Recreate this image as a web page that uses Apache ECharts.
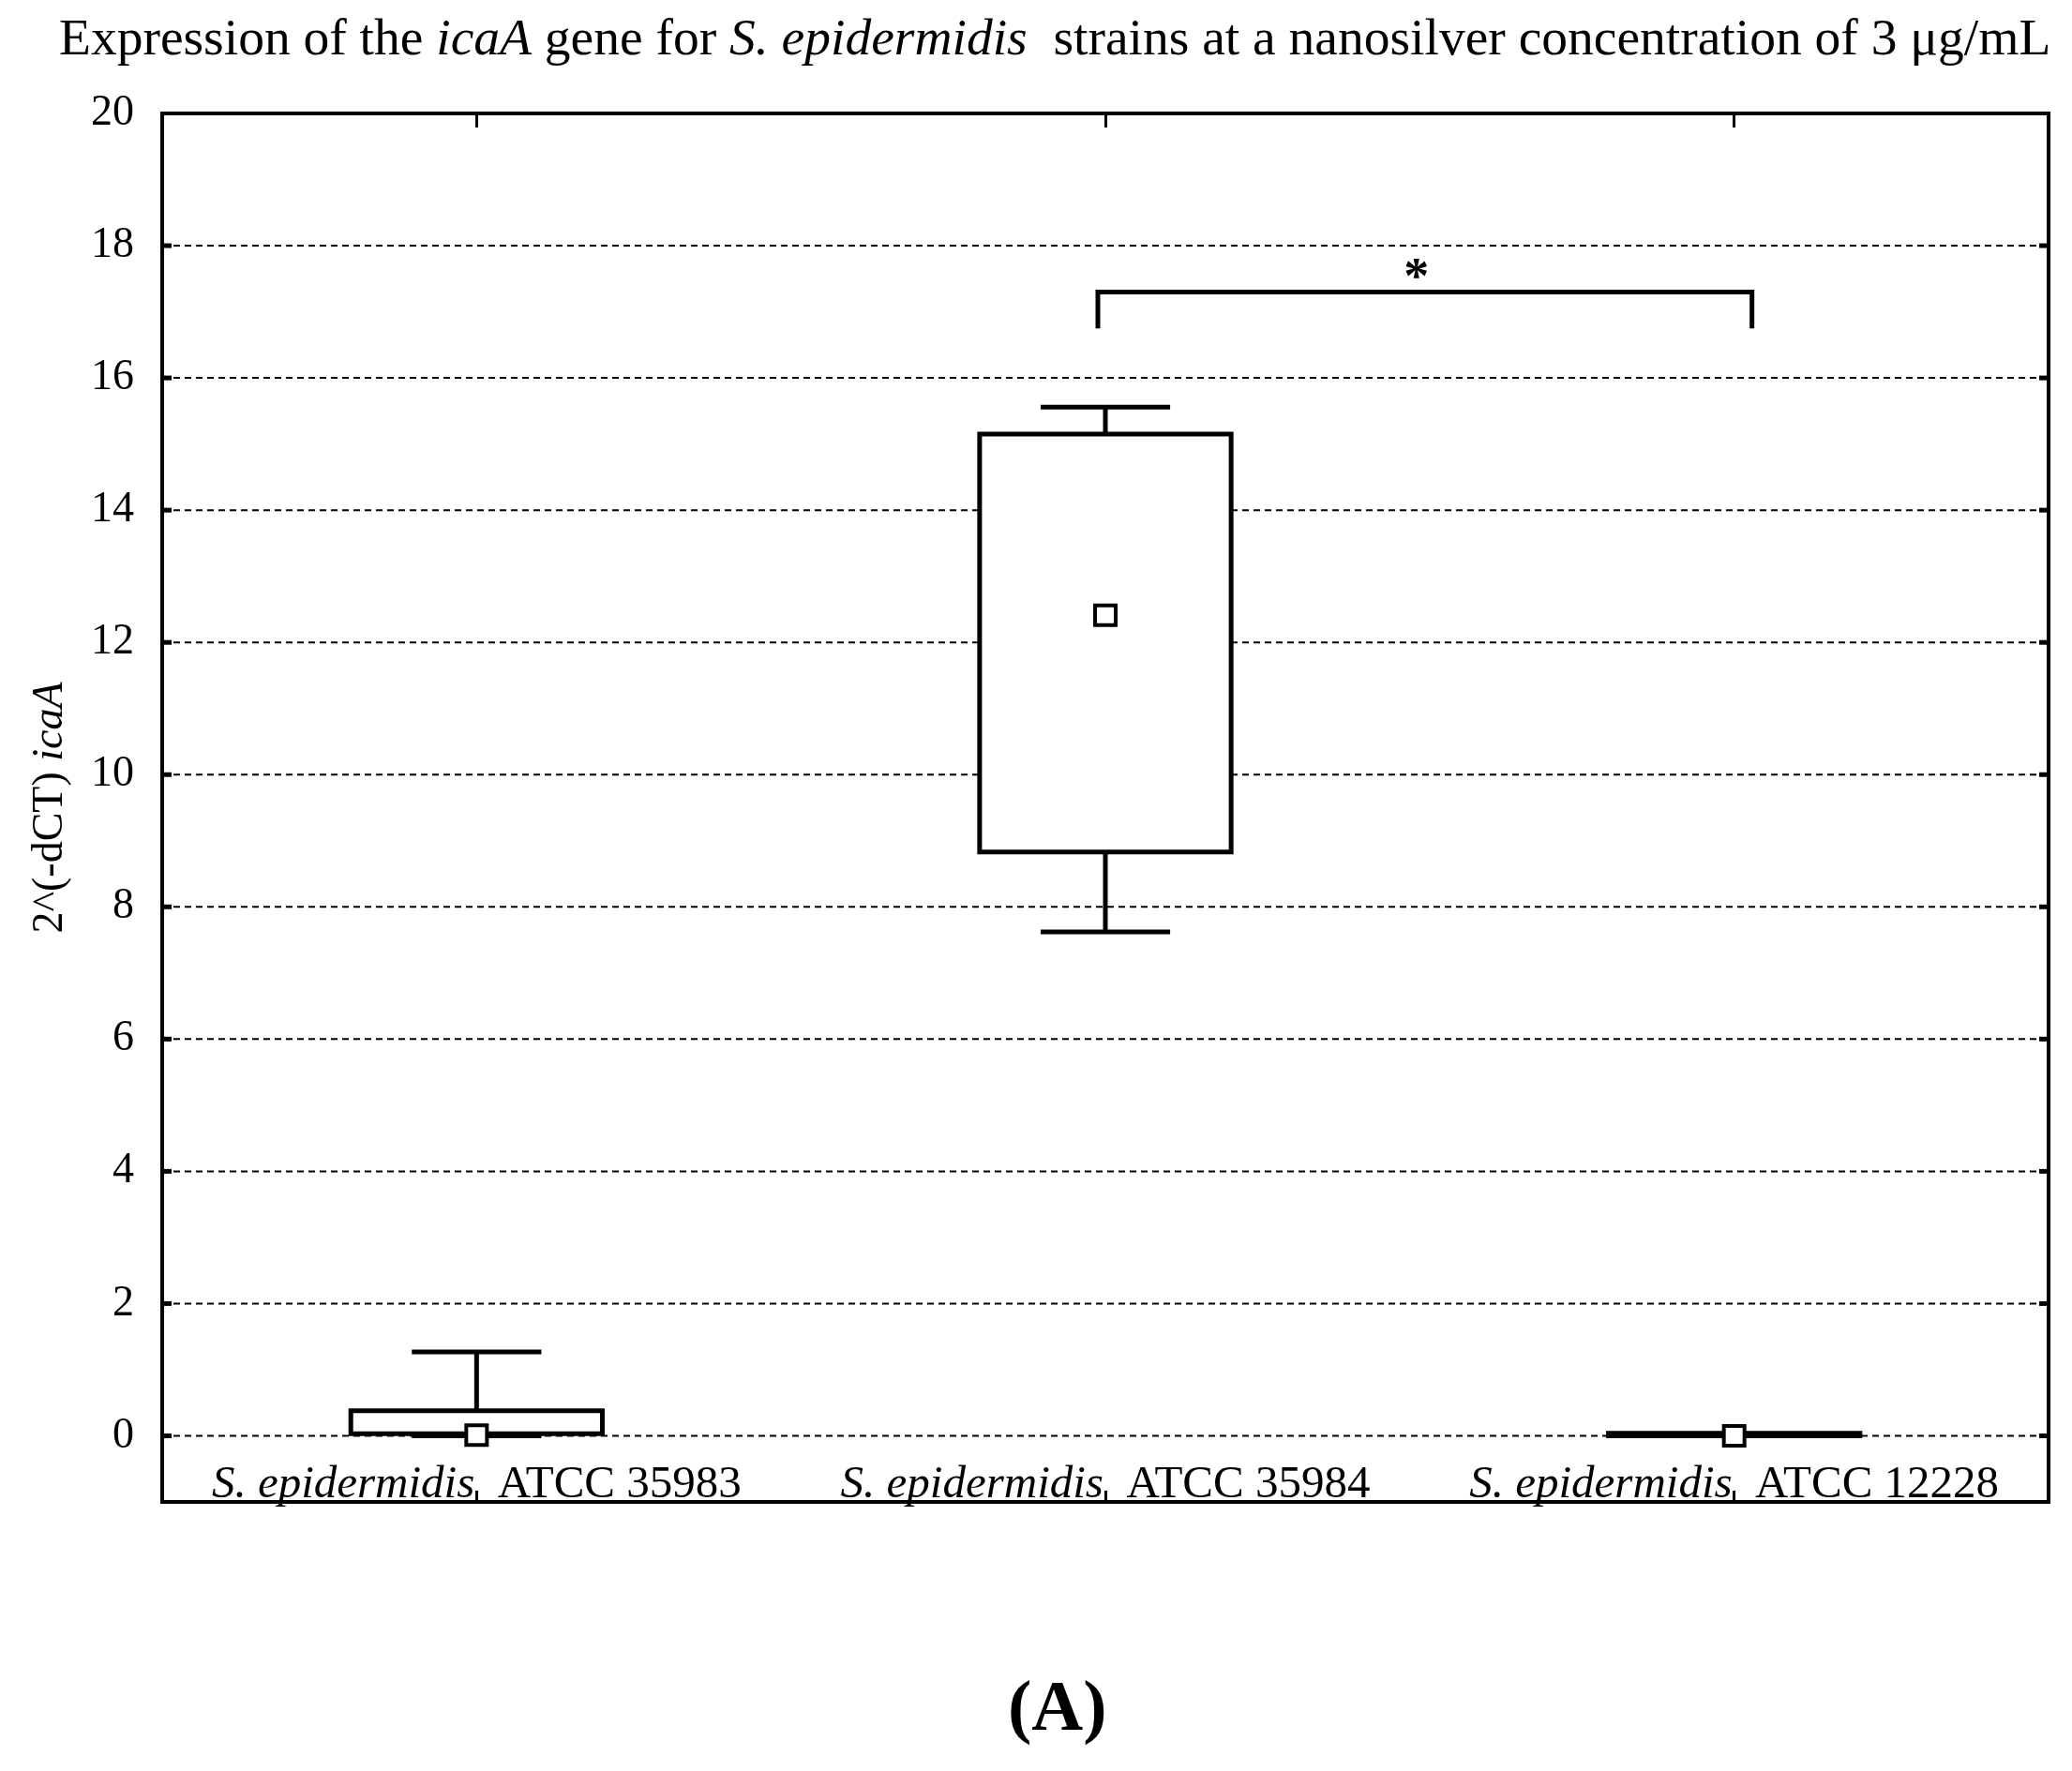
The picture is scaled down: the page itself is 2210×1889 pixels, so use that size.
<!DOCTYPE html>
<html>
<head>
<meta charset="utf-8">
<title>icaA expression</title>
<script src="https://cdn.jsdelivr.net/npm/echarts@6/dist/echarts.min.js"></script>
<style>
  html, body { margin: 0; padding: 0; background: #fff; }
  #chart { width: 2210px; height: 1889px; }
</style>
</head>
<body>
<div id="chart"></div>
<script>
// strains (species name is italic in labels)
const species = 'S. epidermidis'
const strains = ['ATCC 35983', 'ATCC 35984', 'ATCC 12228']

// box plot values per strain
const whiskerMin = [0, 7.62, 0]
const boxLow = [0.03, 8.83, 0]
const centers = [0.01, 12.41, 0]
const boxHigh = [0.38, 15.15, 0.04]
const whiskerMax = [1.27, 15.56, 0]

// y axis
const yTicks = [0, 2, 4, 6, 8, 10, 12, 14, 16, 18]
const yMin = -1
const yMax = 20

// significance bracket: from strain, to strain, bar height, leg end, mark
const significance = [[1, 2, 17.3, 16.75, '*']]

const FONT = 'Liberation Serif'

const chart = echarts.init(document.getElementById('chart'))

function renderGridLine(params, api) {
  const cs = params.coordSys
  const y = api.coord([0, api.value(1)])[1]
  const tick = { stroke: '#000', lineWidth: 5 }
  return {
    type: 'group',
    children: [
      {
        type: 'line',
        shape: { x1: cs.x, y1: y, x2: cs.x + cs.width, y2: y },
        style: { stroke: '#000', lineWidth: 2, lineDash: [7, 5] },
      },
      { type: 'line', shape: { x1: cs.x, y1: y, x2: cs.x + 10, y2: y }, style: tick },
      { type: 'line', shape: { x1: cs.x + cs.width - 10, y1: y, x2: cs.x + cs.width, y2: y }, style: tick },
    ],
  }
}

function renderBox(params, api) {
  const i = api.value(0)
  const band = api.size([1, 0])[0]
  const x = api.coord([i, 0])[0]
  const yLo = api.coord([i, api.value(1)])[1]
  const yQ1 = api.coord([i, api.value(2)])[1]
  const yMid = api.coord([i, api.value(3)])[1]
  const yQ3 = api.coord([i, api.value(4)])[1]
  const yHi = api.coord([i, api.value(5)])[1]
  const half = band * 0.2
  const cap = band * 0.103
  const line = { stroke: '#000', lineWidth: 5 }
  return {
    type: 'group',
    children: [
      { type: 'line', shape: { x1: x, y1: yQ3, x2: x, y2: yHi }, style: line },
      { type: 'line', shape: { x1: x - cap, y1: yHi, x2: x + cap, y2: yHi }, style: line },
      { type: 'line', shape: { x1: x, y1: yQ1, x2: x, y2: yLo }, style: line },
      { type: 'line', shape: { x1: x - cap, y1: yLo, x2: x + cap, y2: yLo }, style: line },
      {
        type: 'rect',
        shape: { x: x - half, y: yQ3, width: half * 2, height: yQ1 - yQ3 },
        style: { fill: '#fff', stroke: '#000', lineWidth: 5 },
      },
      {
        type: 'rect',
        shape: { x: x - 11, y: yMid - 10.5, width: 22, height: 21 },
        style: { fill: '#fff', stroke: '#000', lineWidth: 4 },
      },
    ],
  }
}

function renderBracket(params, api) {
  const xa = api.coord([api.value(0), 0])[0] - 8
  const xb = api.coord([api.value(1), 0])[0] + 19
  const yTop = api.coord([0, api.value(2)])[1]
  const yLeg = api.coord([0, api.value(3)])[1]
  return {
    type: 'group',
    children: [
      {
        type: 'polyline',
        shape: { points: [[xa, yLeg], [xa, yTop], [xb, yTop], [xb, yLeg]] },
        style: { stroke: '#000', lineWidth: 5, fill: null },
      },
      {
        type: 'text',
        x: (xa + xb) / 2 - 9,
        y: yTop + 14,
        style: {
          text: significance[params.dataIndex][4],
          font: 'bold 54px ' + FONT,
          fill: '#000',
          align: 'center',
          verticalAlign: 'bottom',
        },
      },
    ],
  }
}

const boxData = strains.map((s, i) => [i, whiskerMin[i], boxLow[i], centers[i], boxHigh[i], whiskerMax[i]])

const option = {
  backgroundColor: '#fff',
  animation: false,
  title: [
    {
      text: '{n|Expression of the }{i|icaA}{n| gene for }{i|S. epidermidis}{n|  strains at a nanosilver concentration of 3 μg/mL}',
      left: 58,
      top: 10,
      textStyle: {
        rich: {
          n: { fontFamily: FONT, fontSize: 55.5, fontWeight: 'normal', color: '#000' },
          i: { fontFamily: FONT, fontSize: 55.5, fontWeight: 'normal', color: '#000', fontStyle: 'italic' },
        },
      },
    },
    {
      text: '(A)',
      left: 1070,
      top: 1782,
      textStyle: { fontFamily: FONT, fontSize: 76, fontWeight: 'bold', color: '#000' },
    },
  ],
  grid: {
    left: 173,
    right: 25,
    top: 121,
    bottom: 287,
    show: true,
    borderColor: '#000',
    borderWidth: 4,
    backgroundColor: 'transparent',
  },
  xAxis: [
    {
      type: 'category',
      data: strains,
      position: 'bottom',
      axisLine: { show: false, onZero: false },
      axisTick: { show: true, inside: true, alignWithLabel: true, length: 12, lineStyle: { color: '#000', width: 3 } },
      splitLine: { show: false },
      axisLabel: {
        inside: true,
        margin: -7,
        color: '#000',
        formatter: (v) => '{i|' + species + '}{n|  ' + v + '}',
        rich: {
          i: { fontFamily: FONT, fontSize: 49, fontStyle: 'italic', color: '#000' },
          n: { fontFamily: FONT, fontSize: 49, color: '#000' },
        },
      },
    },
    {
      type: 'category',
      data: strains,
      position: 'top',
      axisLine: { show: false, onZero: false },
      axisTick: { show: true, inside: true, alignWithLabel: true, length: 15, lineStyle: { color: '#000', width: 3 } },
      axisLabel: { show: false },
      splitLine: { show: false },
    },
  ],
  yAxis: [
    {
      type: 'value',
      min: yMin,
      max: yMax,
      interval: 1,
      axisLine: { show: false, onZero: false },
      axisTick: { show: false },
      splitLine: { show: false },
      axisLabel: {
        margin: 30,
        color: '#000',
        fontFamily: FONT,
        fontSize: 46,
        formatter: (v) => (yTicks.includes(v) || v === yMax ? String(v) : ''),
      },
      name: '{n|2^(-dCT) }{i|icaA}',
      nameLocation: 'middle',
      nameGap: 96,
      nameTextStyle: {
        rich: {
          n: { fontFamily: FONT, fontSize: 46, color: '#000' },
          i: { fontFamily: FONT, fontSize: 46, color: '#000', fontStyle: 'italic' },
        },
      },
    },
  ],
  series: [
    {
      type: 'custom',
      name: 'grid',
      renderItem: renderGridLine,
      data: yTicks.map((v) => [0, v]),
      encode: { x: 0, y: 1 },
      z: 1,
      silent: true,
    },
    {
      type: 'custom',
      name: 'icaA',
      renderItem: renderBox,
      data: boxData,
      encode: { x: 0, y: [1, 2, 3, 4, 5] },
      z: 3,
    },
    {
      type: 'custom',
      name: 'significance',
      renderItem: renderBracket,
      data: significance.map((d) => [d[0], d[1], d[2], d[3]]),
      encode: { x: [0, 1], y: [2, 3] },
      z: 3,
      silent: true,
    },
  ],
}

chart.setOption(option)
</script>
</body>
</html>
